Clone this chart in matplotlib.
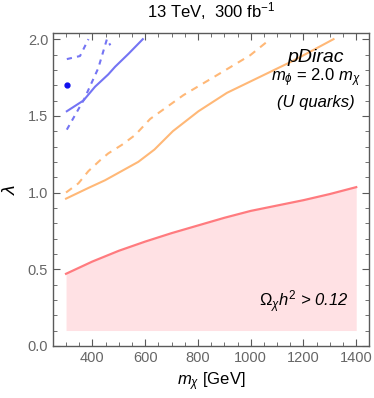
import matplotlib
matplotlib.use('Agg')
import matplotlib.pyplot as plt
from matplotlib.ticker import MultipleLocator

plt.rcParams['font.family'] = ['Liberation Sans', 'DejaVu Sans']
plt.rcParams['mathtext.fontset'] = 'custom'
plt.rcParams['mathtext.it'] = 'Liberation Sans:italic'
plt.rcParams['mathtext.rm'] = 'Liberation Sans'

# Relic density boundary (Omega h^2 = 0.12)
relic_m = [300, 400, 500, 600, 700, 800, 900, 1000, 1100, 1200, 1300, 1400]
relic_lam = [0.47, 0.55, 0.62, 0.68, 0.735, 0.785, 0.835, 0.88, 0.915, 0.95, 0.99, 1.035]
relic_floor = 0.1

# Orange contours
orange_m = [300, 385, 448, 511, 574, 635, 705, 802, 910, 1036, 1162, 1314]
orange_lam = [0.96, 1.03, 1.08, 1.14, 1.20, 1.28, 1.40, 1.53, 1.65, 1.755, 1.86, 2.0]
orange_dash_m = [300, 347, 385, 429, 460, 511, 562, 619, 745, 872, 998, 1074]
orange_dash_lam = [1.0, 1.06, 1.14, 1.21, 1.255, 1.31, 1.375, 1.48, 1.635, 1.765, 1.895, 2.0]

# Blue contours
blue_m = [303, 366, 410, 460, 486, 537, 591]
blue_lam = [1.53, 1.60, 1.69, 1.77, 1.82, 1.905, 2.0]
blue_dash_a_m = [303, 369, 422, 455, 468]
blue_dash_a_lam = [1.41, 1.61, 1.81, 2.0, 1.96]
blue_dash_b_m = [303, 353, 385]
blue_dash_b_lam = [1.87, 1.89, 2.0]
blue_dot_m = [303]
blue_dot_lam = [1.70]

RED = '#ff7b7f'
FILL = '#ffe1e4'
ORANGE = '#ffb877'
BLUE = '#7474f4'
FRAME = '#5a5a5a'
TICKLBL = '#666666'

fig = plt.figure(figsize=(3.74, 3.98), dpi=100)
ax = fig.add_axes([0.142, 0.131, 0.845, 0.786])

ax.fill_between(relic_m, relic_floor, relic_lam, color=FILL, lw=0)
ax.plot(relic_m, relic_lam, color=RED, lw=1.6)

ax.plot(orange_m, orange_lam, color=ORANGE, lw=1.5)
ax.plot(orange_dash_m, orange_dash_lam, color=ORANGE, lw=1.5, dashes=(3.5, 3))

ax.plot(blue_m, blue_lam, color=BLUE, lw=1.5)
ax.plot(blue_dash_a_m, blue_dash_a_lam, color=BLUE, lw=1.5, dashes=(2.5, 2.5))
ax.plot(blue_dash_b_m, blue_dash_b_lam, color=BLUE, lw=1.5, dashes=(2.5, 2.5))
ax.plot(blue_dot_m, blue_dot_lam, 'o', color='#1010ee', ms=3.5)

ax.set_xlim(251, 1449)
ax.set_ylim(0, 2.04)

ax.xaxis.set_minor_locator(MultipleLocator(50))
ax.yaxis.set_minor_locator(MultipleLocator(0.1))
ax.set_xticks([400, 600, 800, 1000, 1200, 1400])
ax.set_yticks([0.0, 0.5, 1.0, 1.5, 2.0])
ax.set_yticklabels(['0.0', '0.5', '1.0', '1.5', '2.0'])

ax.tick_params(which='both', direction='in', top=True, right=True, color=FRAME,
               labelcolor=TICKLBL, labelsize=10.5)
ax.tick_params(which='major', length=5, width=0.8)
ax.tick_params(which='minor', length=3, width=0.6)
for s in ax.spines.values():
    s.set_color(FRAME)
    s.set_linewidth(1.0)

ax.set_xlabel(r'$m_\chi$ [GeV]', fontsize=12, labelpad=4)
ax.set_ylabel(r'$\lambda$', fontsize=14, labelpad=6)
ax.set_title(r'13 TeV,  300 fb$^{-1}$', fontsize=12, pad=11)

ax.text(1248, 1.88, 'pDirac', style='italic', fontsize=14, ha='center', va='center')
ax.text(1248, 1.75, r'$m_\phi$ = 2.0 $m_\chi$', fontsize=12, ha='center', va='center')
ax.text(1248, 1.59, '(U quarks)', style='italic', fontsize=12, ha='center', va='center')
ax.text(1370, 0.29, r'$\Omega_\chi h^2$ > 0.12', style='italic', fontsize=12, ha='right', va='center')

fig.savefig('out.png', dpi=100)
